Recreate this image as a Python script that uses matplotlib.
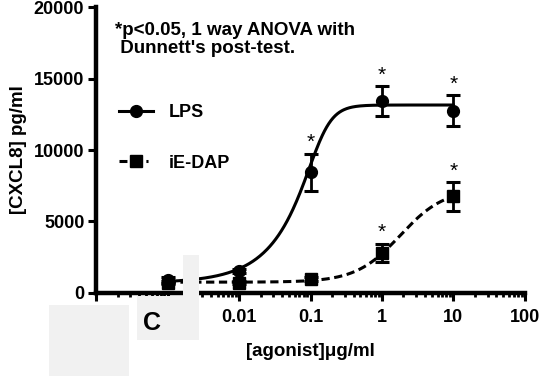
import numpy as np
import matplotlib.pyplot as plt
from matplotlib.patches import Rectangle

plt.rcParams['font.family'] = ['Liberation Sans', 'DejaVu Sans']
plt.rcParams['font.weight'] = 'bold'

# data (control plotted at 0.001)
doses = [0.001, 0.01, 0.1, 1, 10]
lps_mean = [900, 1550, 8450, 13450, 12750]
lps_err = [200, 150, 1300, 1050, 1100]
dap_mean = [700, 700, 990, 2800, 6750]
dap_err = [100, 100, 150, 650, 1000]
lps_star = [False, False, True, True, True]
dap_star = [False, False, False, True, True]

# dose-response fits: bottom, top, EC50, hill slope, asymmetry
lps_fit = (700, 13150, 0.14, 3.2, 0.3)
dap_fit = (750, 7300, 1.8, 1.4, 1.0)

xticks = [1e-4, 1e-3, 0.01, 0.1, 1, 10, 100]
xticklabels = ['', '', '0.01', '0.1', '1', '10', '100']
yticks = [0, 5000, 10000, 15000, 20000]


def logistic(x, p):
    bottom, top, ec50, hill, s = p
    return bottom + (top - bottom) / (1 + (ec50 / x) ** hill) ** s


fig = plt.figure(figsize=(5.4, 3.76), dpi=100)
ax = fig.add_axes([0.178, 0.221, 0.794, 0.760])

xs = np.logspace(-3, 1, 400)
ax.plot(xs, logistic(xs, lps_fit), color='black', lw=2.2)
ax.plot(xs, logistic(xs, dap_fit), color='black', lw=2.2, dashes=(2.7, 1.5))

ax.errorbar(doses, lps_mean, yerr=lps_err, fmt='o', color='black', ms=8.5,
            capsize=4.8, elinewidth=2, capthick=2.2)
ax.errorbar(doses, dap_mean, yerr=dap_err, fmt='s', color='black', ms=8,
            capsize=4.8, elinewidth=2, capthick=2.2)

for x, m, e, s in zip(doses, lps_mean, lps_err, lps_star):
    if s:
        ax.annotate('*', (x, m + e), xytext=(0, 1), textcoords='offset points',
                    ha='center', va='bottom', fontsize=15, fontweight='normal')
for x, m, e, s in zip(doses, dap_mean, dap_err, dap_star):
    if s:
        ax.annotate('*', (x, m + e), xytext=(0, 1), textcoords='offset points',
                    ha='center', va='bottom', fontsize=15, fontweight='normal')

# legend handles
ax.plot([], [], '-o', color='black', lw=2.2, ms=8.5, label='LPS')
ax.plot([], [], '-s', color='black', lw=2.2, ms=8, dashes=(2.6, 6.2, 0.7, 20),
        label='iE-DAP')
h, l = ax.get_legend_handles_labels()
ax.legend(h[-2:], l[-2:], loc='upper left', bbox_to_anchor=(0.054, 0.66),
          frameon=False, fontsize=13, handlelength=1.85, handletextpad=0.9,
          labelspacing=1.85, borderaxespad=0, borderpad=0)

ax.text(0.045, 0.948, "*p<0.05, 1 way ANOVA with\n Dunnett's post-test.",
        transform=ax.transAxes, ha='left', va='top', fontsize=13.5,
        linespacing=1.05)

ax.set_xscale('log')
ax.set_xlim(1e-4, 100)
ax.set_ylim(0, 20000)
ax.set_xticks(xticks)
ax.set_xticklabels(xticklabels)
ax.set_yticks(yticks)
ax.tick_params(axis='both', which='major', width=2.2, length=5.5, labelsize=13,
               direction='out', pad=3)
ax.tick_params(axis='x', which='minor', width=2.0, length=3.2)
ax.tick_params(axis='x', which='major', pad=6)
for side in ['top', 'right']:
    ax.spines[side].set_visible(False)
for side in ['left', 'bottom']:
    ax.spines[side].set_linewidth(3.2)

ax.set_xlabel('[agonist]\u03bcg/ml', fontsize=13.5, fontweight='bold', labelpad=12)
ax.set_ylabel('[CXCL8] pg/ml', fontsize=13.5, fontweight='bold', labelpad=5)

# "C" label under the control point
fig.text(10 ** -3.22, -0.105, 'C', transform=ax.get_xaxis_transform(),
         ha='center', va='center', fontsize=18, zorder=10)

# light grey blocks present in the source image
W, H = 540.0, 376.0
for x0, y0, x1, y1 in [(49, 305, 129, 376), (137, 296, 199, 340), (183, 255, 199, 340)]:
    fig.add_artist(Rectangle((x0 / W, 1 - y1 / H), (x1 - x0) / W, (y1 - y0) / H,
                             transform=fig.transFigure, facecolor='#f1f1f1',
                             edgecolor='none', zorder=5))

fig.savefig('out.png', dpi=100)
